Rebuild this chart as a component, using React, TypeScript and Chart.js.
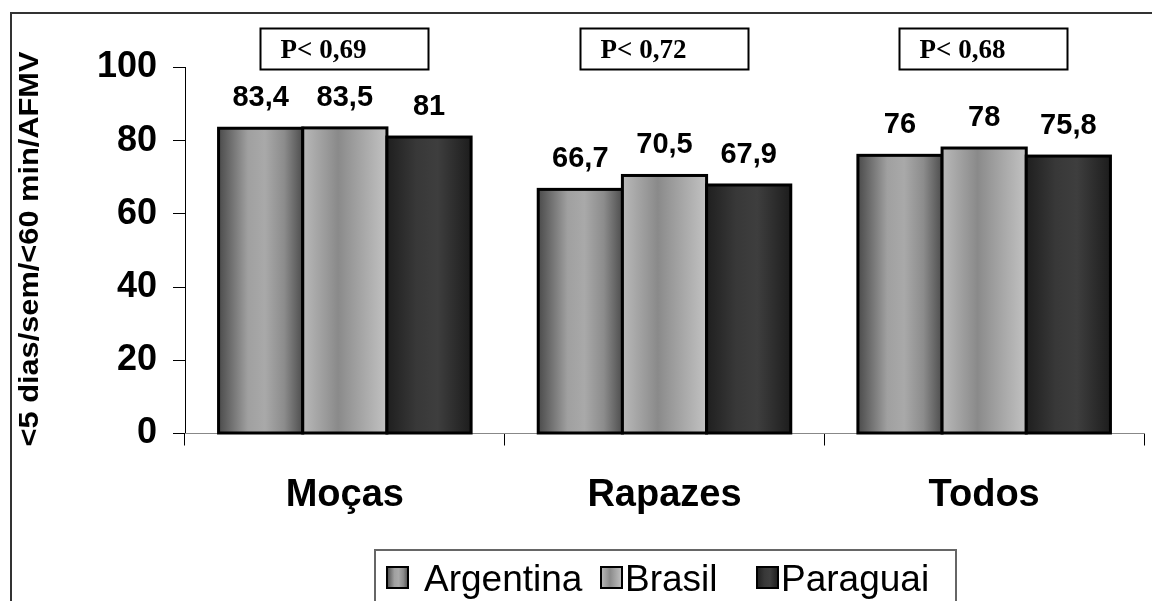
import React, { useEffect, useRef } from 'react';
import { Chart, registerables } from 'chart.js';
Chart.register(...registerables);

const categories = ['Moças', 'Rapazes', 'Todos'];
const seriesNames = ['Argentina', 'Brasil', 'Paraguai'];
const argentina = [83.4, 66.7, 76];
const brasil = [83.5, 70.5, 78];
const paraguai = [81, 67.9, 75.8];
const pValues = ['P< 0,69', 'P< 0,72', 'P< 0,68'];
const yTitle = '<5 dias/sem/<60 min/AFMV';

const gradientStops: [number, string][][] = [
  [[0, '#4b4b4b'], [0.35, '#a0a0a0'], [0.55, '#a9a9a9'], [0.78, '#8c8c8c'], [1, '#4e4e4e']],
  [[0, '#b9b9b9'], [0.42, '#8a8a8a'], [0.58, '#9a9a9a'], [1, '#c2c2c2']],
  [[0, '#1f1f1f'], [0.35, '#383838'], [0.6, '#3e3e3e'], [1, '#1d1d1d']],
];

const fmt = (v: number) => String(v).replace('.', ',');

function grad(ctx: CanvasRenderingContext2D, left: number, width: number, si: number) {
  const g = ctx.createLinearGradient(left, 0, left + width, 0);
  gradientStops[si].forEach(([o, c]) => g.addColorStop(o, c));
  return g;
}

const customPlugin = {
  id: 'customDraw',
  beforeDraw(chart: any) {
    const ctx = chart.ctx;
    ctx.save();
    ctx.fillStyle = '#fff';
    ctx.fillRect(0, 0, chart.width, chart.height);
    ctx.strokeStyle = '#333';
    ctx.lineWidth = 2;
    ctx.beginPath();
    ctx.moveTo(11, chart.height + 5);
    ctx.lineTo(11, 13);
    ctx.lineTo(chart.width + 5, 13);
    ctx.stroke();
    ctx.restore();
  },
  afterDatasetsDraw(chart: any) {
    const ctx = chart.ctx;
    ctx.save();
    const labels: any[] = [];
    chart.data.datasets.forEach((ds: any, di: number) => {
      const meta = chart.getDatasetMeta(di);
      meta.data.forEach((el: any, i: number) => {
        const { x, y, base, width } = el.getProps(['x', 'y', 'base', 'width'], true);
        const left = x - width / 2;
        ctx.fillStyle = grad(ctx, left, width, di);
        ctx.fillRect(left, y, width, base - y);
        ctx.lineWidth = 3;
        ctx.strokeStyle = '#000';
        ctx.strokeRect(left, y, width, base - y);
        labels.push({ x, y, text: fmt(ds.data[i]) });
      });
    });
    ctx.fillStyle = '#000';
    ctx.font = 'bold 29px "Liberation Sans", Arial, sans-serif';
    ctx.textAlign = 'center';
    ctx.textBaseline = 'alphabetic';
    labels.forEach((l) => ctx.fillText(l.text, l.x, l.y - 22));
    ctx.restore();
  },
  afterDraw(chart: any) {
    const ctx = chart.ctx;
    const xs = chart.scales.x;
    ctx.save();
    // P-value boxes
    pValues.forEach((p, i) => {
      const cx = xs.getPixelForValue(i);
      const left = Math.round(cx - 85) + 0.5;
      ctx.strokeStyle = '#000';
      ctx.lineWidth = 2;
      ctx.strokeRect(left, 28.5, 168, 41);
      ctx.fillStyle = '#000';
      ctx.font = 'bold 27px "Liberation Serif", "Times New Roman", serif';
      ctx.textAlign = 'left';
      ctx.textBaseline = 'alphabetic';
      ctx.fillText(p, left + 20, 58);
    });
    // Y title
    ctx.save();
    ctx.translate(31, 249);
    ctx.rotate(-Math.PI / 2);
    ctx.font = 'bold 27px "Liberation Sans", Arial, sans-serif';
    const w = ctx.measureText(yTitle).width;
    ctx.scale(395 / w, 1);
    ctx.textAlign = 'center';
    ctx.textBaseline = 'middle';
    ctx.fillStyle = '#000';
    ctx.fillText(yTitle, 0, 0);
    ctx.restore();
    // Legend
    ctx.strokeStyle = '#666';
    ctx.lineWidth = 2;
    ctx.strokeRect(375, 550, 581, 80);
    const markerX = [387, 601, 757];
    const textX = [424, 625, 781];
    seriesNames.forEach((name, i) => {
      const mx = markerX[i];
      ctx.fillStyle = grad(ctx, mx, 21, i);
      ctx.fillRect(mx, 567, 21, 21);
      ctx.lineWidth = 2;
      ctx.strokeStyle = '#000';
      ctx.strokeRect(mx, 567, 21, 21);
      ctx.fillStyle = '#000';
      ctx.font = '37px "Liberation Sans", Arial, sans-serif';
      ctx.textAlign = 'left';
      ctx.textBaseline = 'alphabetic';
      ctx.fillText(name, textX[i], 591);
    });
    ctx.restore();
  },
};

export default function App() {
  const ref = useRef<HTMLCanvasElement>(null);
  useEffect(() => {
    document.body.style.margin = '0';
    const chart = new Chart(ref.current!, {
      type: 'bar',
      data: {
        labels: categories,
        datasets: [
          { label: seriesNames[0], data: argentina },
          { label: seriesNames[1], data: brasil },
          { label: seriesNames[2], data: paraguai },
        ].map((d) => ({ ...d, backgroundColor: 'rgba(0,0,0,0)', borderWidth: 0, categoryPercentage: 0.79, barPercentage: 1 })),
      },
      options: {
        animation: false,
        responsive: false,
        devicePixelRatio: 1,
        layout: { padding: { left: 0, top: 67.5, right: 8, bottom: 0 } },
        plugins: { legend: { display: false }, tooltip: { enabled: false } },
        scales: {
          y: {
            min: 0,
            max: 100,
            ticks: {
              stepSize: 20,
              color: '#000',
              padding: 16,
              font: { family: '"Liberation Sans", Arial, sans-serif', size: 36, weight: 'bold' },
            },
            grid: { drawOnChartArea: false, tickLength: 12, color: '#000' },
            border: { color: '#000', width: 1 },
            afterFit: (s: any) => { s.width = 185; },
          },
          x: {
            ticks: {
              color: '#000',
              padding: 27,
              maxRotation: 0,
              autoSkip: false,
              font: { family: '"Liberation Sans", Arial, sans-serif', size: 38, weight: 'bold' },
            },
            grid: { drawOnChartArea: false, tickLength: 12, color: '#000', offset: true },
            border: { color: '#888', width: 1 },
            afterFit: (s: any) => { s.height = 167.5; },
          },
        },
      },
      plugins: [customPlugin],
    });
    return () => chart.destroy();
  }, []);
  return (
    <div style={{ position: 'absolute', left: 0, top: 0, width: 1152, height: 601 }}>
      <canvas ref={ref} width={1152} height={601} style={{ width: 1152, height: 601, display: 'block' }} />
    </div>
  );
}
